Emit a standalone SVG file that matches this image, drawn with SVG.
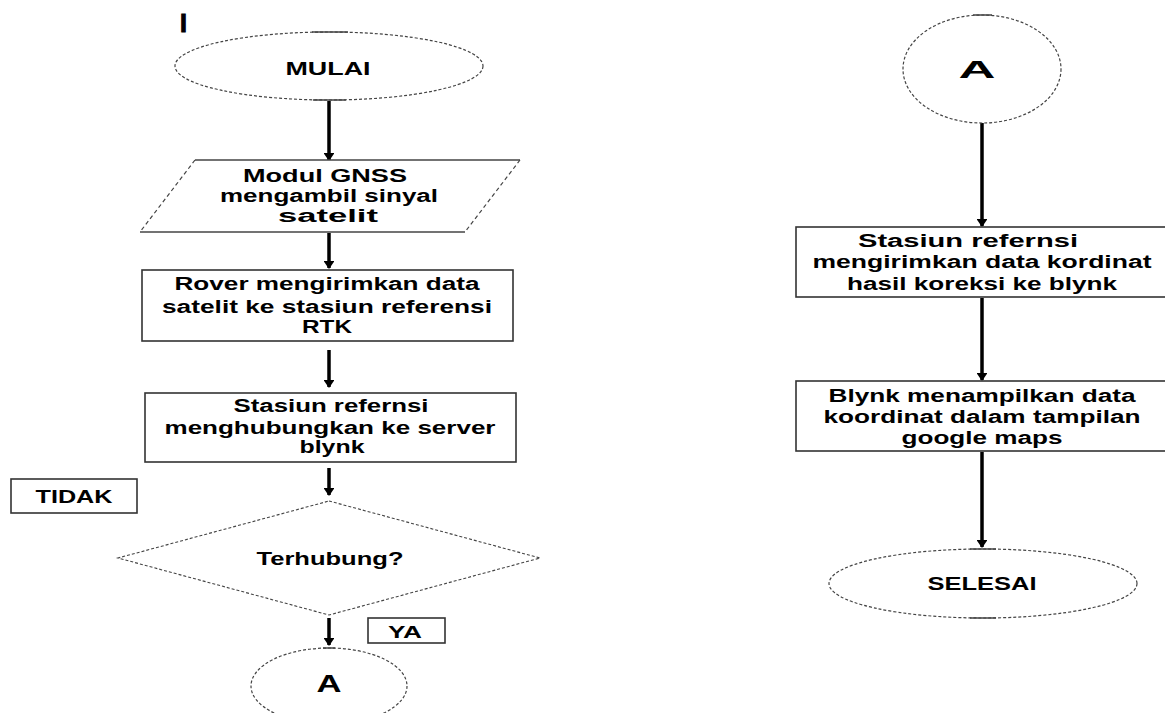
<svg xmlns="http://www.w3.org/2000/svg" width="1165" height="713" viewBox="0 0 1165 713">
<style>
text{font-family:"Liberation Sans",Arial,sans-serif;font-weight:bold;font-size:17.5px;fill:#000;text-anchor:middle}
.term{fill:#fff;stroke:#444;stroke-width:1.2;stroke-dasharray:3 2}
.solid{stroke:#444;stroke-width:1.5}
.box{fill:#fff;stroke:#333;stroke-width:1.6}
.dash{stroke:#444;stroke-width:1.2;stroke-dasharray:4 3;fill:none}
.conn{stroke:#000;stroke-width:3.5;fill:none;marker-end:url(#ah)}
</style>
<defs>
<marker id="ah" viewBox="0 0 8 11" refX="7" refY="5.5" markerWidth="2.3" markerHeight="3.1" markerUnits="strokeWidth" orient="auto">
<path d="M0,0 L8,5.5 L0,11 z" fill="#000"/>
</marker>
</defs>
<rect width="1165" height="713" fill="#fff"/>

<g id="mark-I"><text x="183.5" y="32" style="font-size:25px;stroke:#000;stroke-width:1">I</text></g>

<g id="connectors">
<line class="conn" x1="329" y1="101" x2="329" y2="160"/>
<line class="conn" x1="329" y1="233" x2="329" y2="268"/>
<line class="conn" x1="329" y1="350" x2="329" y2="387"/>
<line class="conn" x1="329" y1="468" x2="329" y2="495"/>
<line class="conn" x1="329" y1="618" x2="329" y2="645"/>
<line class="conn" x1="982" y1="123" x2="982" y2="226"/>
<line class="conn" x1="982" y1="298" x2="982" y2="380"/>
<line class="conn" x1="982" y1="452" x2="982" y2="547"/>
</g>

<g id="mulai">
<ellipse class="term" cx="329" cy="66" rx="154" ry="34"/>
<line class="solid" x1="312" y1="32" x2="348" y2="32"/>
<line class="solid" x1="313" y1="100" x2="346" y2="100"/>
<text x="328" y="75" textLength="85" lengthAdjust="spacingAndGlyphs">MULAI</text>
</g>

<g id="gnss">
<polygon points="195,160 520,160 465,232 140,232" fill="#fff" stroke="none"/>
<line class="solid" x1="195" y1="160" x2="520" y2="160"/>
<line class="solid" x1="140" y1="232" x2="465" y2="232"/>
<line class="dash" x1="195" y1="160" x2="140" y2="232"/>
<line class="dash" x1="520" y1="160" x2="465" y2="232"/>
<text x="325" y="182" textLength="164" lengthAdjust="spacingAndGlyphs">Modul GNSS</text>
<text x="329" y="202" textLength="218" lengthAdjust="spacingAndGlyphs">mengambil sinyal</text>
<text x="328" y="222" textLength="100" lengthAdjust="spacingAndGlyphs">satelit</text>
</g>

<g id="rover">
<rect class="box" x="142" y="270" width="371" height="71"/>
<text x="327" y="290" textLength="305" lengthAdjust="spacingAndGlyphs">Rover mengirimkan data</text>
<text x="327" y="313" textLength="330" lengthAdjust="spacingAndGlyphs">satelit ke stasiun referensi</text>
<text x="327" y="333" textLength="50" lengthAdjust="spacingAndGlyphs">RTK</text>
</g>

<g id="stasiun-server">
<rect class="box" x="145" y="393" width="371" height="69"/>
<text x="331" y="412" textLength="195" lengthAdjust="spacingAndGlyphs">Stasiun refernsi</text>
<text x="330" y="434" textLength="331" lengthAdjust="spacingAndGlyphs">menghubungkan ke server</text>
<text x="332" y="453" textLength="65" lengthAdjust="spacingAndGlyphs">blynk</text>
</g>

<g id="tidak">
<rect class="box" x="11" y="479" width="126" height="34"/>
<text x="74" y="503" textLength="77" lengthAdjust="spacingAndGlyphs">TIDAK</text>
</g>

<g id="terhubung">
<polygon points="329,501 540,558 329,615 118,558" fill="#fff" stroke="#444" stroke-width="1.1" stroke-dasharray="3 2"/>
<text x="330" y="565" textLength="147" lengthAdjust="spacingAndGlyphs">Terhubung?</text>
</g>

<g id="ya">
<rect class="box" x="368" y="618" width="77" height="25"/>
<text x="405" y="638" textLength="34" lengthAdjust="spacingAndGlyphs" style="font-size:16px">YA</text>
</g>

<g id="a-bottom">
<ellipse class="term" cx="329" cy="686" rx="78" ry="38"/>
<line class="solid" x1="323" y1="648" x2="335" y2="648"/>
<text x="329" y="692" textLength="25" lengthAdjust="spacingAndGlyphs" style="font-size:24px">A</text>
</g>

<g id="a-top">
<ellipse class="term" cx="982" cy="69" rx="79" ry="54"/>
<line class="solid" x1="973" y1="15" x2="992" y2="15"/>
<text x="977" y="78" textLength="37" lengthAdjust="spacingAndGlyphs" style="font-size:23px">A</text>
</g>

<g id="kirim-koreksi">
<rect class="box" x="796" y="227" width="380" height="70"/>
<text x="968" y="247" textLength="220" lengthAdjust="spacingAndGlyphs">Stasiun refernsi</text>
<text x="982" y="268" textLength="339" lengthAdjust="spacingAndGlyphs">mengirimkan data kordinat</text>
<text x="982" y="290" textLength="270" lengthAdjust="spacingAndGlyphs">hasil koreksi ke blynk</text>
</g>

<g id="tampil-maps">
<rect class="box" x="796" y="381" width="380" height="70"/>
<text x="982" y="402" textLength="307" lengthAdjust="spacingAndGlyphs">Blynk menampilkan data</text>
<text x="982" y="423" textLength="317" lengthAdjust="spacingAndGlyphs">koordinat dalam tampilan</text>
<text x="982" y="444" textLength="161" lengthAdjust="spacingAndGlyphs">google maps</text>
</g>

<g id="selesai">
<ellipse class="term" cx="983" cy="583.5" rx="154" ry="34.5"/>
<line class="solid" x1="970" y1="549" x2="996" y2="549"/>
<line class="solid" x1="970" y1="618" x2="996" y2="618"/>
<text x="982" y="590" textLength="109" lengthAdjust="spacingAndGlyphs">SELESAI</text>
</g>
</svg>
